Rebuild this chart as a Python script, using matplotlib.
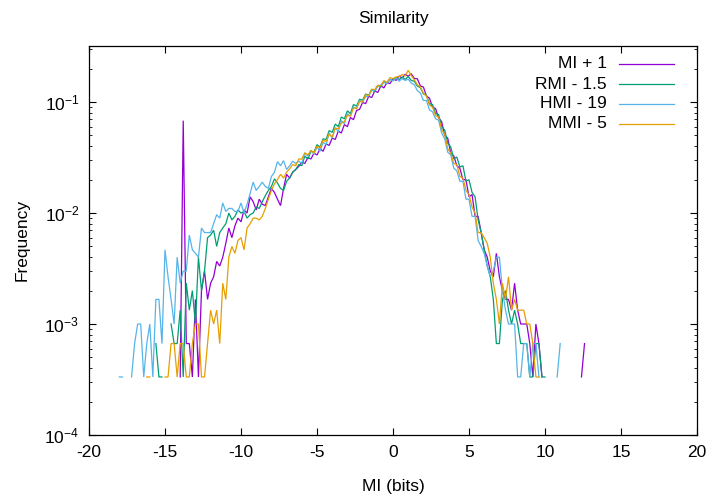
import numpy as np
import matplotlib
matplotlib.use("Agg")
import matplotlib.pyplot as plt
from matplotlib.ticker import LogLocator, NullFormatter

# ---------------- data ----------------
# histogram bins: centres from -18.2 to 12.6, width 0.2
bin_first = -18.2
bin_width = 0.2
n_samples = 3000  # frequency = count / n_samples

series_labels = ["MI + 1", "RMI - 1.5", "HMI - 19", "MMI - 5"]
series_colors = ["#9400d3", "#009e73", "#56b4e9", "#e69f00"]

mi_counts = [
    0, 0, 0, 0, 0,   0, 0, 0, 0, 0,   0, 0, 0, 0, 0,   0, 0, 0, 0, 0,
    0, 1, 204, 2, 2,   1, 5, 1, 6, 9,   5, 7, 8, 11, 10,   12, 16, 22, 18, 23,
    27, 25, 32, 30, 42,   38, 32, 40, 36, 35,   42, 50, 46, 40, 35,   50, 67, 62, 70, 74,
    79, 86, 84, 95, 92,   104, 100, 114, 108, 126,   122, 142, 138, 164, 158,
    188, 180, 218, 208, 252,   258, 298, 290, 338, 330,   378, 366, 420, 402, 450,
    440, 488, 470, 515, 492,   535, 512, 540, 490, 486,   420, 410, 340, 325, 270,
    262, 216, 200, 150, 142,   104, 98, 80, 76, 60,   60, 42, 44, 28, 28,
    20, 14, 12, 9, 8,   13, 8, 6, 5, 5,   4, 7, 4, 3, 3,   3, 2, 1, 3, 2,
    1, 0, 0, 0, 0,   0, 0, 0, 0, 0,   0, 0, 0, 1, 2,
]

rmi_counts = [
    0, 0, 0, 0, 0,   0, 0, 0, 0, 0,   0, 0, 0, 2, 1,   1, 0, 0, 3, 2,
    2, 4, 1, 7, 4,   6, 3, 12, 6, 9,   18, 19, 21, 15, 20,   22, 24, 30, 26, 28,
    32, 30, 31, 27, 29,   30, 34, 33, 38, 43,   48, 52, 61, 56, 50,   48, 58, 62, 70, 74,
    82, 80, 98, 92, 108,   106, 124, 118, 140, 138,   166, 160, 190, 180, 220,
    212, 250, 236, 285, 276,   318, 312, 355, 345, 390,   372, 425, 410, 462, 440,
    480, 470, 500, 478, 505,   480, 510, 470, 462, 418,   405, 355, 345, 290, 285,
    236, 232, 180, 168, 128,   118, 92, 96, 78, 80,   58, 60, 46, 42, 26,
    20, 14, 10, 8, 5,   2, 2, 5, 6, 4,   3, 4, 3, 2, 2,   2, 1, 1, 2, 2,
    1, 1, 0, 0, 0,   0, 0, 0, 0, 0,   0, 0, 0, 0, 0,
]

hmi_counts = [
    0, 1, 1, 0, 0,   1, 2, 3, 3, 1,   2, 3, 1, 5, 5,   2, 14, 8, 5, 3,
    12, 7, 9, 9, 19,   14, 13, 12, 22, 20,   20, 20, 24, 29, 27,   37, 31, 33, 33, 31,
    31, 37, 30, 36, 45,   57, 48, 52, 57, 52,   50, 64, 70, 87, 80,   89, 74, 80, 88, 84,
    88, 84, 104, 98, 110,   102, 118, 108, 130, 124,   158, 142, 176, 162, 204,
    192, 236, 224, 270, 262,   310, 300, 335, 340, 382,   380, 418, 428, 450, 440,
    482, 465, 495, 462, 488,   470, 482, 445, 430, 380,   362, 310, 310, 255, 245,
    212, 206, 158, 140, 106,   100, 76, 72, 58, 58,   40, 40, 28, 28, 17,
    15, 13, 10, 8, 9,   12, 12, 6, 4, 3,   3, 3, 1, 1, 2,   2, 1, 2, 2, 1,
    0, 0, 0, 0, 0,   1, 2, 0, 0, 0,   0, 0, 0, 0, 0,
]

mmi_counts = [
    0, 0, 0, 0, 0,   0, 0, 0, 0, 0,   1, 1, 0, 0, 0,   0, 1, 1, 2, 2,
    1, 2, 2, 1, 1,   2, 3, 3, 1, 1,   2, 4, 3, 4, 2,   7, 5, 12, 15, 13,
    17, 18, 14, 22, 24,   27, 27, 26, 28, 33,   40, 48, 55, 60, 67,   62, 70, 75, 82, 80,
    92, 92, 105, 100, 110,   104, 120, 116, 136, 132,   155, 145, 175, 172, 194,
    200, 228, 224, 266, 262,   305, 300, 350, 342, 392,   388, 425, 420, 468, 450,
    498, 488, 505, 510, 530,   515, 580, 520, 478, 428,   410, 360, 340, 282, 270,
    226, 220, 170, 154, 114,   104, 84, 82, 64, 62,   48, 44, 34, 30, 20,
    20, 18, 16, 12, 7,   5, 3, 7, 5, 8,   4, 5, 4, 4, 4,   3, 3, 2, 1, 1,
    0, 0, 0, 0, 0,   0, 0, 0, 0, 0,   0, 0, 0, 0, 0,
]

x_ticks = [-20, -15, -10, -5, 0, 5, 10, 15, 20]

# ---------------- figure ----------------
plt.rcParams["font.family"] = ["Liberation Sans", "DejaVu Sans"]
plt.rcParams["mathtext.fontset"] = "custom"
plt.rcParams["mathtext.rm"] = "Liberation Sans"
plt.rcParams["mathtext.default"] = "regular"
plt.rcParams["axes.unicode_minus"] = False

W, H = 714, 497
fig = plt.figure(figsize=(W / 100, H / 100), dpi=100)
ax = fig.add_axes([89 / W, 1 - 435 / H, (697 - 89) / W, (435 - 46) / H])

all_counts = [mi_counts, rmi_counts, hmi_counts, mmi_counts]
n_bins = len(mi_counts)
x = bin_first + bin_width * np.arange(n_bins)

for counts, color in zip(all_counts, series_colors):
    c = np.array(counts, dtype=float)
    c[c <= 0] = np.nan
    ax.plot(x, c / n_samples, color=color, lw=0.9, solid_joinstyle="miter")

ax.set_yscale("log")
ax.set_xlim(-20, 20)
ax.set_ylim(1e-4, 0.32)
ax.set_xticks(x_ticks)
ax.yaxis.set_major_locator(LogLocator(base=10, numticks=10))
ax.yaxis.set_minor_locator(LogLocator(base=10, subs=np.arange(2, 10), numticks=20))
ax.yaxis.set_minor_formatter(NullFormatter())

ax.tick_params(axis="both", which="major", direction="in", length=5, width=0.8,
               top=True, right=True, labelsize=12.5, pad=7, colors="black")
ax.tick_params(axis="y", which="minor", direction="in", length=2.5, width=0.6,
               left=True, right=True)
for s in ax.spines.values():
    s.set_linewidth(0.9)
    s.set_color("black")

fig.text(393 / W, 1 - 18 / H, "Similarity", ha="center", va="center", fontsize=12.5)
fig.text(393 / W, 1 - 486 / H, "MI (bits)", ha="center", va="center", fontsize=12.5)
fig.text(22 / W, 1 - 240 / H, "Frequency", ha="center", va="center",
         rotation=90, fontsize=12.5)

# gnuplot-style key: right-aligned labels, sample lines to the right
row_y = [0.954, 0.902, 0.851, 0.800]
for lab, col, yy in zip(series_labels, series_colors, row_y):
    ax.text(0.852, yy, lab, transform=ax.transAxes, ha="right", va="center",
            fontsize=12.5)
    ax.plot([0.872, 0.962], [yy, yy], transform=ax.transAxes, color=col, lw=0.9)

fig.savefig("out.png", dpi=100)
